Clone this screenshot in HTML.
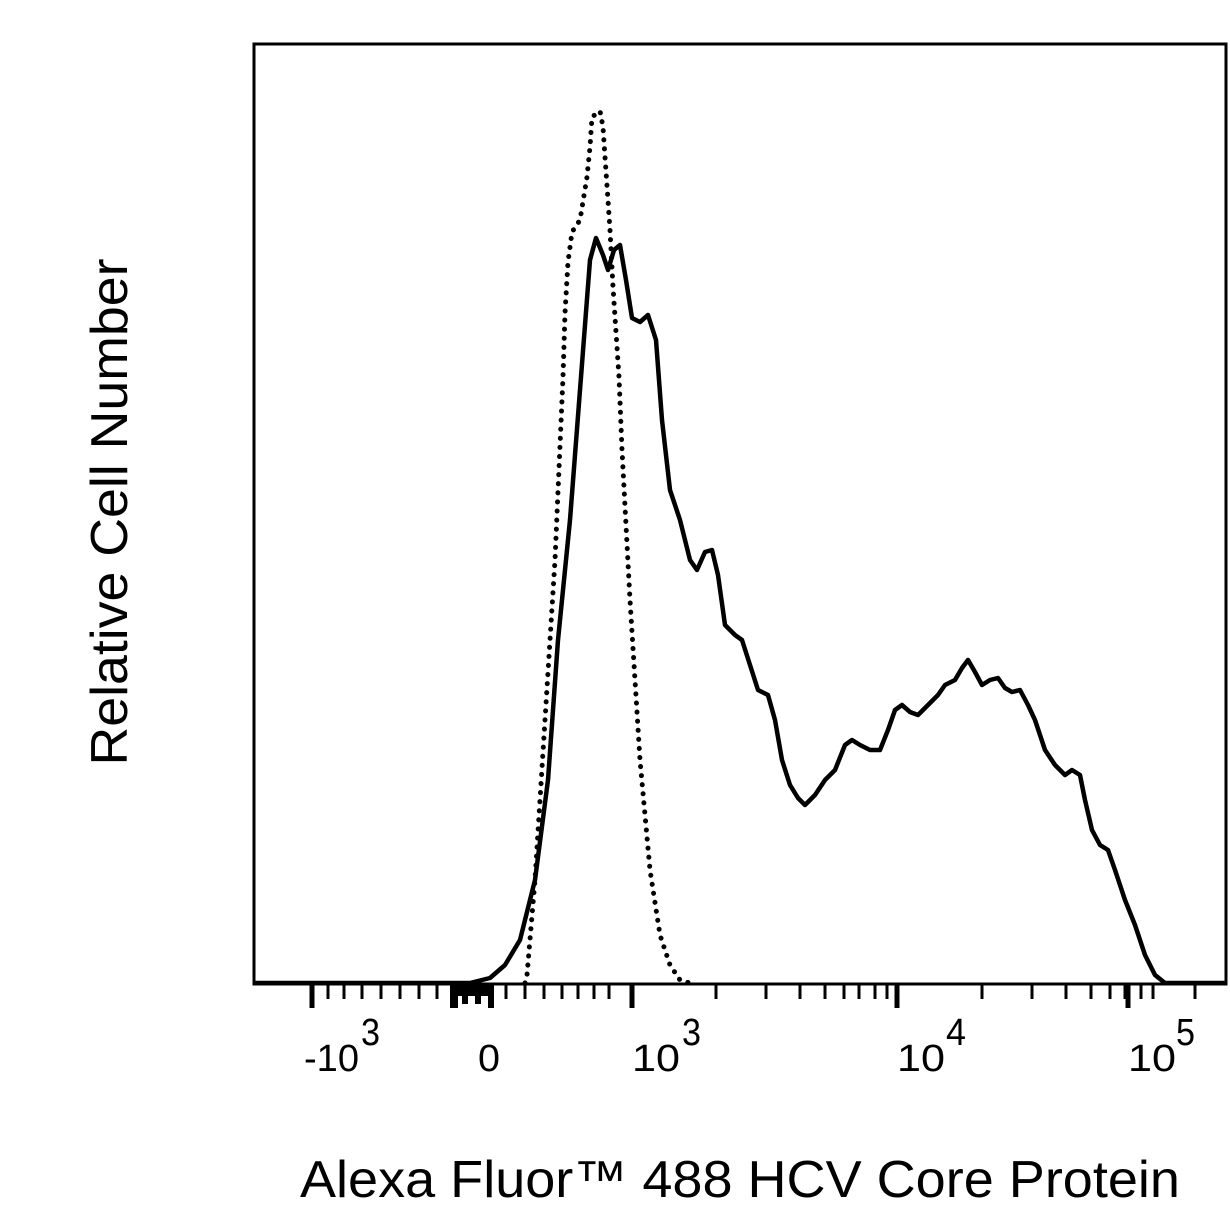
<!DOCTYPE html>
<html><head><meta charset="utf-8"><style>
html,body{margin:0;padding:0;background:#fff;}
svg{display:block;}
text{font-family:"Liberation Sans",Arial,sans-serif;fill:#000;}
</style></head><body>
<svg width="1230" height="1230" viewBox="0 0 1230 1230" xmlns="http://www.w3.org/2000/svg">
<rect x="254" y="44" width="972" height="940" fill="none" stroke="#000" stroke-width="3"/>
<g stroke="#000" stroke-width="5">
<line x1="312" y1="984" x2="312" y2="1008"/>
<line x1="632" y1="984" x2="632" y2="1008"/>
<line x1="897" y1="984" x2="897" y2="1008"/>
<line x1="1128" y1="984" x2="1128" y2="1008"/>
</g>
<g stroke="#000" stroke-width="3">
<line x1="328" y1="984" x2="328" y2="999"/><line x1="344" y1="984" x2="344" y2="999"/><line x1="362" y1="984" x2="362" y2="999"/><line x1="381" y1="984" x2="381" y2="999"/><line x1="400" y1="984" x2="400" y2="999"/><line x1="419" y1="984" x2="419" y2="999"/><line x1="437" y1="984" x2="437" y2="999"/>
<line x1="506" y1="984" x2="506" y2="999"/><line x1="525" y1="984" x2="525" y2="999"/><line x1="544" y1="984" x2="544" y2="999"/><line x1="562" y1="984" x2="562" y2="999"/><line x1="578" y1="984" x2="578" y2="999"/><line x1="594" y1="984" x2="594" y2="999"/><line x1="609" y1="984" x2="609" y2="999"/>
<line x1="716" y1="984" x2="716" y2="999"/><line x1="766" y1="984" x2="766" y2="999"/><line x1="800" y1="984" x2="800" y2="999"/><line x1="825" y1="984" x2="825" y2="999"/><line x1="844" y1="984" x2="844" y2="999"/><line x1="859" y1="984" x2="859" y2="999"/><line x1="875" y1="984" x2="875" y2="999"/><line x1="887" y1="984" x2="887" y2="999"/>
<line x1="982" y1="984" x2="982" y2="999"/><line x1="1032" y1="984" x2="1032" y2="999"/><line x1="1066" y1="984" x2="1066" y2="999"/><line x1="1091" y1="984" x2="1091" y2="999"/><line x1="1110" y1="984" x2="1110" y2="999"/><line x1="1125" y1="984" x2="1125" y2="999"/><line x1="1141" y1="984" x2="1141" y2="999"/><line x1="1153" y1="984" x2="1153" y2="999"/>
<line x1="1195" y1="984" x2="1195" y2="999"/>
</g>
<rect x="450" y="984" width="44" height="12" fill="#000"/>
<rect x="450" y="984" width="8" height="24" fill="#000"/>
<rect x="462" y="984" width="6" height="20" fill="#000"/>
<rect x="475" y="984" width="6" height="20" fill="#000"/>
<rect x="488" y="984" width="6" height="24" fill="#000"/>
<g font-size="38">
<text x="304" y="1071" textLength="55" lengthAdjust="spacingAndGlyphs">-10</text><text x="361" y="1045" textLength="19" lengthAdjust="spacingAndGlyphs">3</text>
<text x="478" y="1071" textLength="22" lengthAdjust="spacingAndGlyphs">0</text>
<text x="632" y="1071" textLength="48" lengthAdjust="spacingAndGlyphs">10</text><text x="682" y="1045" textLength="19" lengthAdjust="spacingAndGlyphs">3</text>
<text x="897" y="1071" textLength="48" lengthAdjust="spacingAndGlyphs">10</text><text x="946" y="1045" textLength="20" lengthAdjust="spacingAndGlyphs">4</text>
<text x="1128" y="1071" textLength="48" lengthAdjust="spacingAndGlyphs">10</text><text x="1176" y="1045" textLength="19" lengthAdjust="spacingAndGlyphs">5</text>
</g>
<text x="740" y="1197" font-size="52" text-anchor="middle" textLength="880" lengthAdjust="spacingAndGlyphs">Alexa Fluor™ 488 HCV Core Protein</text>
<text transform="translate(127,512) rotate(-90)" font-size="52" text-anchor="middle" textLength="507" lengthAdjust="spacingAndGlyphs">Relative Cell Number</text>
<polyline fill="none" stroke="#000" stroke-width="4.5" stroke-linejoin="round" points="254,983 470,983 490,978 505,965 520,940 535,880 548,780 558,640 570,520 580,390 590,260 596,238 603,255 608,270 614,250 620,245 626,280 632,318 640,322 648,315 656,340 662,420 670,490 680,520 690,560 697,570 705,552 712,550 718,575 725,625 735,635 742,640 750,665 758,690 768,695 775,720 782,760 790,785 798,798 805,805 815,795 825,780 835,770 845,745 852,740 860,745 870,750 880,750 888,730 895,710 902,705 910,712 918,715 928,705 938,695 945,685 955,680 962,668 968,660 975,672 982,685 990,680 998,678 1005,688 1012,692 1020,690 1028,705 1035,720 1045,750 1055,765 1065,775 1072,770 1080,775 1085,800 1092,830 1100,845 1108,850 1115,870 1125,900 1135,925 1145,955 1155,975 1165,983 1226,983"/>
<polyline fill="none" stroke="#000" stroke-width="5" stroke-dasharray="0.1 9" stroke-linecap="round" stroke-linejoin="round" points="525,983 527,975 535,880 545,720 555,560 563,377 565,313 568,262 572,232 580,220 587,177 590,147 592,117 600,111 603,127 605,157 608,200 610,230 613,287 617,347 619,377 622,450 630,600 640,760 650,870 660,935 670,965 680,980 690,983"/>
</svg>
</body></html>
